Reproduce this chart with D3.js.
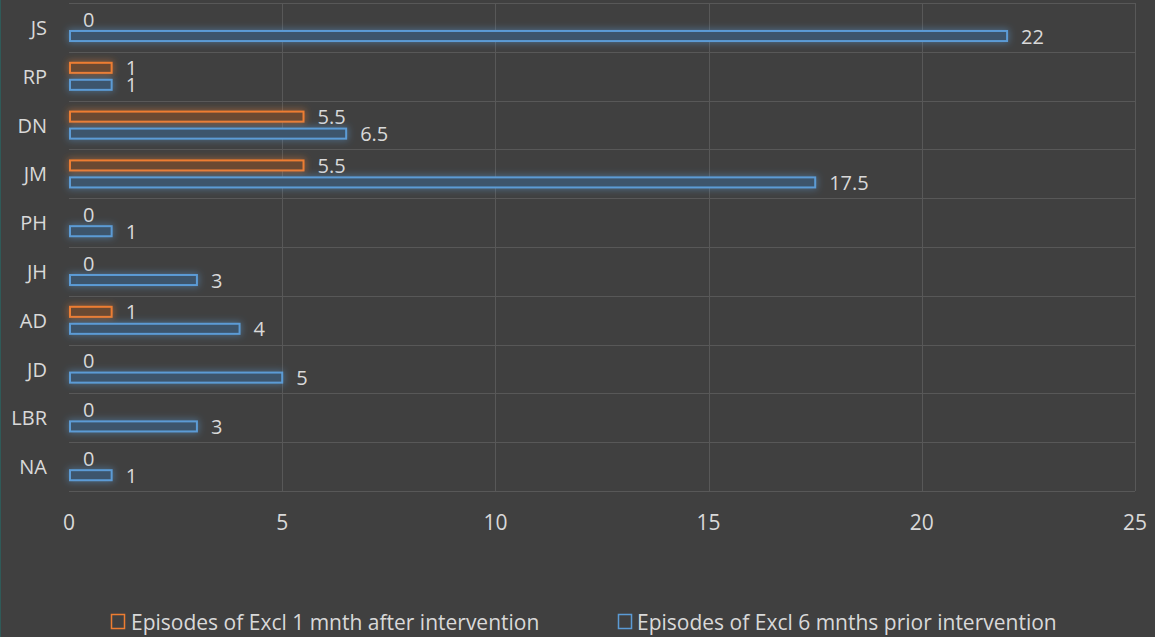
<!DOCTYPE html>
<html><head><meta charset="utf-8">
<script src="https://cdn.jsdelivr.net/npm/d3@7"></script>
<style>
html,body{margin:0;padding:0;background:#404040;}
svg{display:block;}
text{font-family:"Open Sans",sans-serif;fill:#d9d9d9;}
</style></head>
<body>
<svg id="c" width="1155" height="637"></svg>
<script>
const categories = ["JS","RP","DN","JM","PH","JH","AD","JD","LBR","NA"];
const afterValues = [0,1,5.5,5.5,0,0,1,0,0,0];
const priorValues = [22,1,6.5,17.5,1,3,4,5,3,1];
const seriesNames = ["Episodes of Excl 1 mnth after intervention","Episodes of Excl 6 mnths prior intervention"];
const seriesColors = ["#ed7d31","#5b9bd5"];
const seriesFills = ["#6b4a33","#3d556c"];
const xTicks = [0,5,10,15,20,25];

const W=1155,H=637;
const m={left:69,right:20,top:3,bottom:146};
const svg=d3.select("#c");
svg.append("rect").attr("width",W).attr("height",H).attr("fill","#404040");
svg.append("line").attr("x1",0.5).attr("x2",0.5).attr("y1",0).attr("y2",H).attr("stroke","#2f5a58").attr("stroke-width",1);

const defs=svg.append("defs");
seriesColors.forEach((c,i)=>{
  const f=defs.append("filter").attr("id","glow"+i).attr("x","-20%").attr("y","-150%").attr("width","140%").attr("height","400%");
  f.append("feMorphology").attr("in","SourceAlpha").attr("operator","dilate").attr("radius",1).attr("result","d");
  f.append("feGaussianBlur").attr("in","d").attr("stdDeviation",3.5).attr("result","b");
  f.append("feFlood").attr("flood-color",c).attr("flood-opacity",0.45).attr("result","fc");
  f.append("feComposite").attr("in","fc").attr("in2","b").attr("operator","in").attr("result","gl");
  const mg=f.append("feMerge");
  mg.append("feMergeNode").attr("in","gl");
  mg.append("feMergeNode").attr("in","SourceGraphic");
});

const x=d3.scaleLinear().domain([0,25]).range([m.left,W-m.right]);
const y=d3.scaleBand().domain(categories).range([m.top,H-m.bottom]).paddingInner(0).paddingOuter(0);
const bw=y.bandwidth();
const y1=d3.scaleBand().domain([0,1]).range([bw*0.205,bw*0.80]).paddingInner(0.29);

const g=svg.append("g");
// gridlines
g.selectAll(".vg").data(xTicks).join("line")
  .attr("x1",d=>Math.round(x(d))+0.5).attr("x2",d=>Math.round(x(d))+0.5)
  .attr("y1",m.top).attr("y2",H-m.bottom)
  .attr("stroke",d=>d===0?"none":"#585858").attr("stroke-width",1);
const hb=categories.map(c=>y(c)).concat([H-m.bottom]);
g.selectAll(".hg").data(hb).join("line")
  .attr("x1",m.left).attr("x2",W-m.right)
  .attr("y1",d=>Math.round(d)+0.5).attr("y2",d=>Math.round(d)+0.5)
  .attr("stroke","#585858").attr("stroke-width",1);

const series=[afterValues,priorValues];
series.forEach((vals,si)=>{
  const sg=g.append("g");
  sg.selectAll("rect").data(categories.map((c,i)=>({c,v:vals[i]})).filter(d=>d.v>0)).join("rect")
    .attr("x",x(0)+1).attr("y",d=>y(d.c)+y1(si)+1)
    .attr("width",d=>x(d.v)-x(0)-1).attr("height",y1.bandwidth()-2)
    .attr("fill",seriesFills[si]).attr("stroke",seriesColors[si]).attr("stroke-width",2)
    .attr("filter","url(#glow"+si+")");
  sg.selectAll("text").data(categories.map((c,i)=>({c,v:vals[i]}))).join("text")
    .attr("x",d=>x(d.v)+14).attr("y",d=>y(d.c)+y1(si)+y1.bandwidth()/2)
    .attr("dominant-baseline","central").attr("font-size",20)
    .text(d=>d.v);
});

// category labels
g.selectAll(".cl").data(categories).join("text")
  .attr("x",m.left-22).attr("y",d=>y(d)+bw*0.5)
  .attr("text-anchor","end").attr("dominant-baseline","central").attr("font-size",20)
  .text(d=>d);

// x axis labels
g.selectAll(".xl").data(xTicks).join("text")
  .attr("x",d=>x(d)).attr("y",522)
  .attr("text-anchor","middle").attr("dominant-baseline","central").attr("font-size",21)
  .text(d=>d);

// legend
const leg=[{x:111,tx:131},{x:618,tx:637}];
seriesNames.forEach((n,i)=>{
  svg.append("rect").attr("x",leg[i].x+0.5).attr("y",614.5).attr("width",13).attr("height",14)
    .attr("fill","none").attr("stroke",seriesColors[i]).attr("stroke-width",1.5);
  svg.append("text").attr("x",leg[i].tx).attr("y",622).attr("dominant-baseline","central")
    .attr("font-size",21).text(n);
});
</script>
</body></html>
